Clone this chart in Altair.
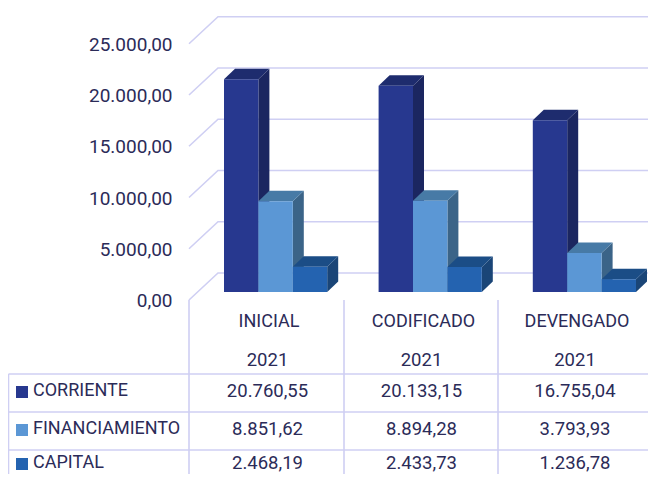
import altair as alt
import pandas as pd

stages = ["INICIAL", "CODIFICADO", "DEVENGADO"]
year_labels = ["2021", "2021", "2021"]
series_names = ["CORRIENTE", "FINANCIAMIENTO", "CAPITAL"]
corriente = [20760.55, 20133.15, 16755.04]
financiamiento = [8851.62, 8894.28, 3793.93]
capital = [2468.19, 2433.73, 1236.78]
tick_values = [0, 5000, 10000, 15000, 20000, 25000]
cell_text = [
    ["20.760,55", "20.133,15", "16.755,04"],
    ["8.851,62", "8.894,28", "3.793,93"],
    ["2.468,19", "2.433,73", "1.236,78"],
]
front_colors = ["#27388f", "#5b97d5", "#2463b0"]
side_colors = ["#1b2660", "#3b6488", "#1a4577"]
top_colors = ["#1e2c6e", "#477aa6", "#1b4d86"]
line_color = "#cfcff3"
text_color = "#2b2b58"
font = "Roboto"

# geometry (page pixels)
K = 0.01025          # px per value unit
BASE = 292
def V(py):
    return (BASE - py) / K
def X(px):
    return px - 8

group_left = [224.0, 378.6, 532.8]
bar_w = 34.4
dx, dy = 11, 10.5
wall_lines = [189, 344, 498]
head_centers = [269, 423.5, 577]
cell_centers = [267.5, 421.5, 575]
row_y = [391, 429, 462.5]
PAGE_R, PAGE_B = 648, 474

label_expr = "replace(replace(replace(format(datum.value, ',.2f'), ',', '_'), '.', ','), '_', '.')"
y_axis = alt.Axis(
    values=tick_values, labelExpr=label_expr, grid=False, ticks=False, domain=False, title=None,
    labelFont=font, labelFontSize=19, labelColor=text_color, labelPadding=-164,
    labelOffset=8.5, labelBound=False, labelOverlap=False, labelFlush=False)

xs = alt.Scale(domain=[0, 640], range=[0, 640], nice=False, zero=False)
ys = alt.Scale(domain=[V(PAGE_B), V(8)], nice=False, zero=False)
xq = lambda f="x": alt.X(f"{f}:Q", scale=xs, axis=None)
yq = lambda f="y": alt.Y(f"{f}:Q", scale=ys, axis=y_axis)

layers = []

# back wall + side wall gridlines
wall = []
for t in tick_values:
    v = float(t)
    wall += [
        {"x": X(189), "y": v + V(BASE + 8), "t": t, "o": 0},
        {"x": X(218), "y": v + V(BASE - 19), "t": t, "o": 1},
        {"x": X(PAGE_R), "y": v + V(BASE - 19), "t": t, "o": 2},
    ]
layers.append(alt.Chart(pd.DataFrame(wall)).mark_line(color=line_color, strokeWidth=1.6).encode(
    x=xq(), y=yq(), detail="t:N", order="o:Q"))

# table rules
rules = []
for py in [374, 412, 450]:
    rules.append({"x": X(8.5), "x2": X(PAGE_R), "y": V(py), "y2": V(py)})
rules.append({"x": X(8.5), "x2": X(8.5), "y": V(374), "y2": V(PAGE_B)})
for px in wall_lines:
    rules.append({"x": X(px), "x2": X(px), "y": V(300), "y2": V(PAGE_B)})
layers.append(alt.Chart(pd.DataFrame(rules)).mark_rule(color=line_color, strokeWidth=1.6).encode(
    x=xq(), x2="x2:Q", y=yq(), y2="y2:Q"))

# 3D bars
values = [corriente, financiamiento, capital]
D = dy / K
for g in range(3):
    for s in range(3):
        v = values[s][g]
        x0 = X(group_left[g] + s * bar_w)
        x1 = x0 + bar_w
        side = pd.DataFrame([
            {"x": x1, "y": v, "y2": 0},
            {"x": x1 + dx, "y": v + D, "y2": D},
        ])
        top = pd.DataFrame([
            {"x": x0, "y": v, "y2": v},
            {"x": x0 + dx, "y": v + D, "y2": v},
            {"x": x1, "y": v + D, "y2": v},
            {"x": x1 + dx, "y": v + D, "y2": v + D},
        ])
        front = pd.DataFrame([{"x": x0, "x2": x1, "y": v, "y2": 0}])
        layers.append(alt.Chart(side).mark_area(color=side_colors[s]).encode(x=xq(), y=yq(), y2="y2:Q"))
        layers.append(alt.Chart(top).mark_area(color=top_colors[s]).encode(x=xq(), y=yq(), y2="y2:Q"))
        layers.append(alt.Chart(front).mark_rect(color=front_colors[s]).encode(x=xq(), x2="x2:Q", y=yq(), y2="y2:Q"))

# table text
head = [{"x": X(c), "y": V(322), "t": st} for c, st in zip(head_centers, stages)]
years = [{"x": X(c), "y": V(360), "t": yr} for c, yr in zip(cell_centers, year_labels)]
cells = []
for py, row in zip(row_y, cell_text):
    for c, t in zip(cell_centers, row):
        cells.append({"x": X(c), "y": V(py), "t": t})
layers.append(alt.Chart(pd.DataFrame(head)).mark_text(
    font=font, fontSize=18, color=text_color, align="center", baseline="middle").encode(
    x=xq(), y=yq(), text="t:N"))
layers.append(alt.Chart(pd.DataFrame(years + cells)).mark_text(
    font=font, fontSize=18.5, color=text_color, align="center", baseline="middle").encode(
    x=xq(), y=yq(), text="t:N"))
names = pd.DataFrame([{"x": X(33), "y": V(py), "t": n} for py, n in zip(row_y, series_names)])
layers.append(alt.Chart(names).mark_text(
    font=font, fontSize=18, color=text_color, align="left", baseline="middle").encode(
    x=xq(), y=yq(), text="t:N"))
for py, col in zip([392, 430, 464], front_colors):
    sq = pd.DataFrame([{"x": X(16), "x2": X(28), "y": V(py - 6), "y2": V(py + 6)}])
    layers.append(alt.Chart(sq).mark_rect(color=col).encode(x=xq(), x2="x2:Q", y=yq(), y2="y2:Q"))

chart = alt.layer(*layers).properties(
    width=640, height=466, padding=0, autosize=alt.AutoSizeParams(type="none")
).configure_view(stroke=None)
chart.save("out.html", embed_options={"renderer": "svg", "actions": False})
